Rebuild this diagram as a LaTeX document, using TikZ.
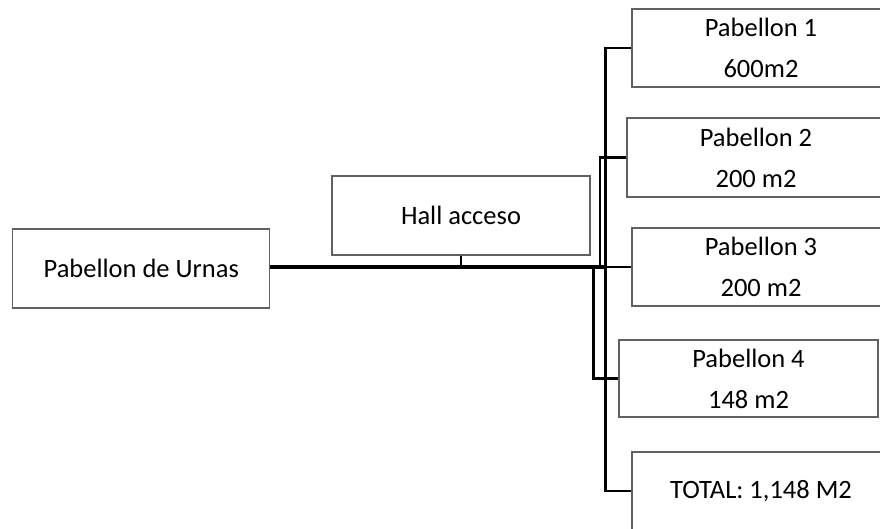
\documentclass[tikz,border=0pt]{standalone}
\usepackage{fontspec}
\setmainfont{Carlito}
\begin{document}
\begin{tikzpicture}[x=1pt,y=-1pt,
  box/.style={draw=black!62, line width=1.1pt, fill=white, rectangle, inner sep=0pt,
    minimum width=258pt, minimum height=78pt, align=center,
    font=\fontsize{26.5}{41}\selectfont},
  conn/.style={draw=black, line width=2.6pt},
  mainconn/.style={draw=black, line width=3.3pt}]
\useasboundingbox (0,0) rectangle (880,529);
\node[box, minimum width=257pt, minimum height=79pt] (urnas) at (141.3,268.5) {Pabellon de Urnas};
\node[box, minimum height=79pt] (hall) at (461,215.5) {Hall acceso};
\node[box] (p1) at (761,48) {Pabellon 1\\600m2};
\node[box, minimum height=79pt] (p2) at (756,157.5) {Pabellon 2\\200 m2};
\node[box] (p3) at (761,267) {Pabellon 3\\200 m2};
\node[box, minimum width=259pt, minimum height=77pt] (p4) at (748.5,378.5) {Pabellon 4\\148 m2};
\node[box] (tot) at (761,491) {TOTAL: 1,148 M2};
\coordinate (sp) at (605.7,0);
\coordinate (sp2) at (600,0);
\coordinate (sp4) at (593.3,0);
\draw[mainconn] (urnas.east |- p3.west) -- (sp |- p3.west);
\draw[conn] (sp |- p3.west) -- (p3.west);
\draw[conn] (hall.south) -- (hall.south |- p3.west);
\draw[conn] (p1.west) -- (sp |- p1.west) -- (sp |- tot.west) -- (tot.west);
\draw[conn] (sp2 |- p3.west) -- (sp2 |- p2.west) -- (p2.west);
\draw[conn] (sp4 |- p3.west) -- (sp4 |- p4.west) -- (p4.west);
\end{tikzpicture}
\end{document}
